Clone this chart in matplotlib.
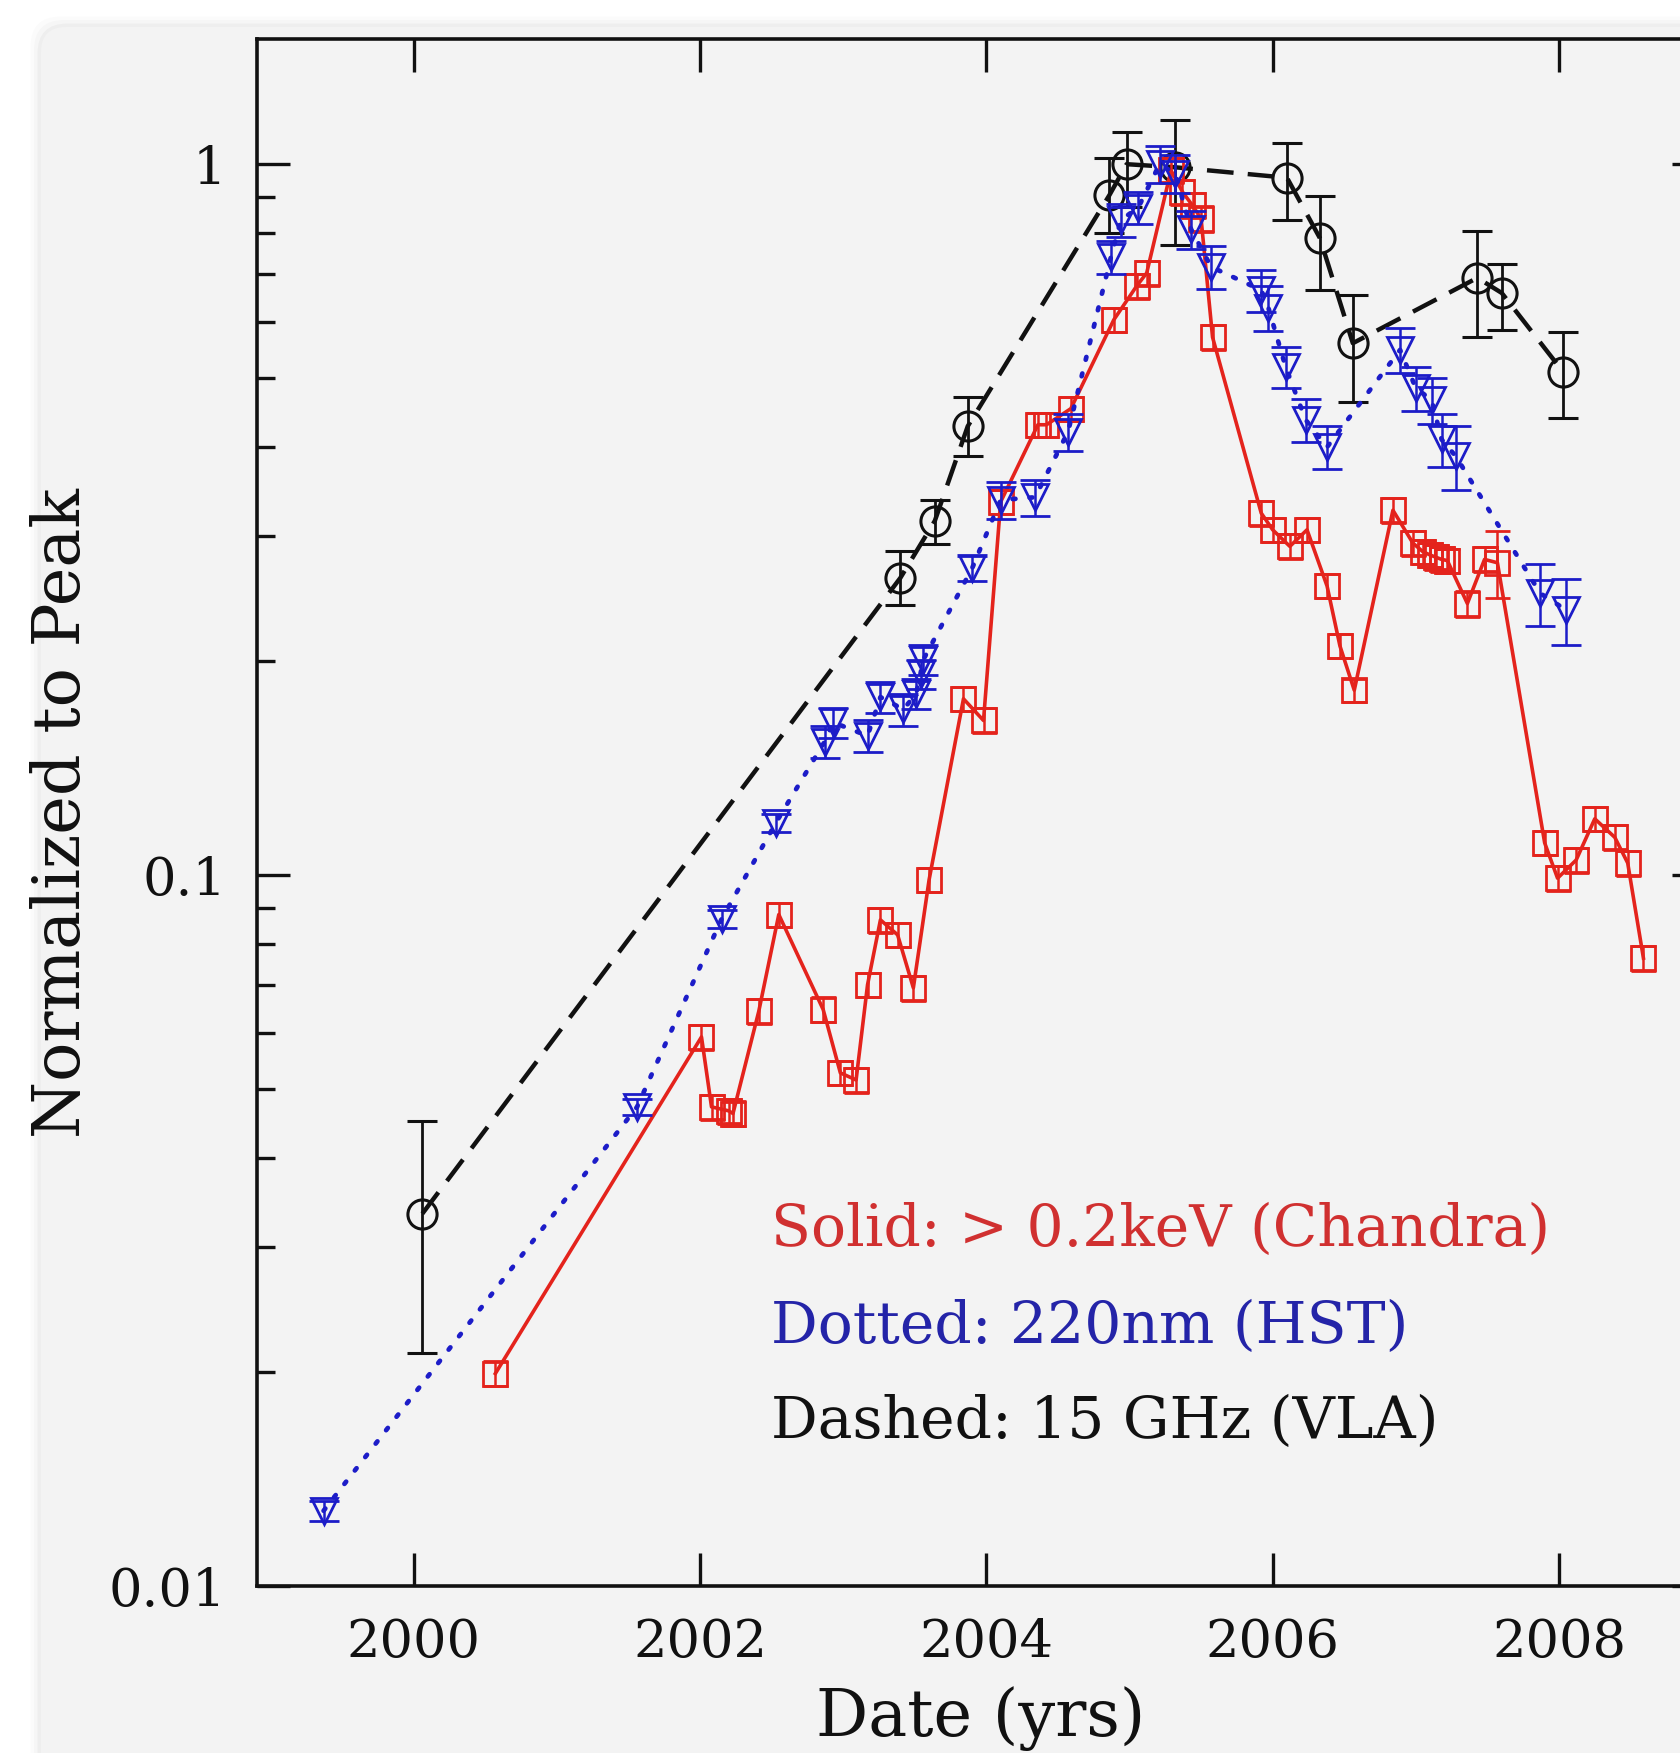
import numpy as np
import matplotlib
matplotlib.use("Agg")
import matplotlib.pyplot as plt
from matplotlib.patches import FancyBboxPatch
from matplotlib.ticker import FixedLocator, FixedFormatter, LogLocator, NullLocator, NullFormatter

# 15 GHz (VLA) - dashed, open circles
vla_t = [2000.06, 2003.40, 2003.64, 2003.87, 2004.86, 2004.98, 2005.32,
         2006.10, 2006.33, 2006.56, 2007.43, 2007.60, 2008.03]
vla_v = [0.0334, 0.262, 0.315, 0.428, 0.905, 1.0, 0.99,
         0.957, 0.787, 0.56, 0.692, 0.659, 0.51]
vla_lo = [0.0213, 0.240, 0.292, 0.388, 0.80, 0.87, 0.77,
          0.835, 0.666, 0.463, 0.571, 0.585, 0.44]
vla_hi = [0.0451, 0.286, 0.337, 0.471, 1.02, 1.11, 1.154,
          1.071, 0.902, 0.655, 0.805, 0.724, 0.581]

# 220nm (HST) - dotted, open down triangles
hst_t = [1999.37, 2001.56, 2002.15, 2002.53, 2002.87, 2002.93, 2003.17,
         2003.26, 2003.42, 2003.51, 2003.54, 2003.56, 2003.90, 2004.10,
         2004.34, 2004.57, 2004.87, 2004.94, 2005.06, 2005.21, 2005.32,
         2005.43, 2005.57, 2005.92, 2005.97, 2006.09, 2006.23, 2006.38,
         2006.89, 2007.00, 2007.11, 2007.18, 2007.28, 2007.87, 2008.05]
hst_v = [0.01276, 0.0472, 0.0867, 0.1185, 0.154, 0.164, 0.157,
         0.178, 0.171, 0.180, 0.192, 0.201, 0.27, 0.337,
         0.34, 0.42, 0.74, 0.835, 0.868, 1.0, 0.97,
         0.81, 0.717, 0.665, 0.628, 0.519, 0.437, 0.40,
         0.548, 0.484, 0.466, 0.41, 0.388, 0.249, 0.236]
hst_err = [0.0004, 0.0012, 0.0025, 0.0035, 0.008, 0.008, 0.008,
           0.009, 0.009, 0.009, 0.009, 0.010, 0.011, 0.02,
           0.02, 0.025, 0.04, 0.045, 0.045, 0.06, 0.06,
           0.05, 0.05, 0.045, 0.045, 0.035, 0.03, 0.028,
           0.04, 0.035, 0.035, 0.035, 0.04, 0.025, 0.025]

# > 0.2keV (Chandra) - solid, open squares
cxo_t = [2000.57, 2002.01, 2002.08, 2002.20, 2002.23, 2002.41, 2002.55,
         2002.86, 2002.98, 2003.09, 2003.17, 2003.26, 2003.38, 2003.49,
         2003.60, 2003.84, 2003.98, 2004.10, 2004.36, 2004.42, 2004.59,
         2004.89, 2005.05, 2005.12, 2005.29, 2005.37, 2005.44, 2005.50,
         2005.58, 2005.92, 2006.00, 2006.12, 2006.24, 2006.38, 2006.47,
         2006.57, 2006.84, 2006.98, 2007.05, 2007.10, 2007.14, 2007.18,
         2007.22, 2007.36, 2007.48, 2007.57, 2007.90, 2007.99, 2008.12,
         2008.25, 2008.39, 2008.48, 2008.59]
cxo_v = [0.0199, 0.0592, 0.0472, 0.0466, 0.0462, 0.0643, 0.088,
         0.0647, 0.0527, 0.0515, 0.0701, 0.0865, 0.0824, 0.0694,
         0.0985, 0.177, 0.165, 0.335, 0.43, 0.43, 0.453,
         0.604, 0.674, 0.703, 0.98, 0.914, 0.875, 0.838,
         0.571, 0.323, 0.306, 0.29, 0.306, 0.255, 0.21,
         0.182, 0.326, 0.293, 0.285, 0.282, 0.28, 0.278,
         0.277, 0.241, 0.278, 0.275, 0.111, 0.099, 0.105,
         0.120, 0.113, 0.104, 0.0764]
cxo_err = [0.0008, 0.0024, 0.0019, 0.0019, 0.0019, 0.0026, 0.0035,
           0.0026, 0.0021, 0.0021, 0.0028, 0.0035, 0.0033, 0.0028,
           0.0039, 0.007, 0.0066, 0.013, 0.017, 0.017, 0.018,
           0.024, 0.027, 0.028, 0.039, 0.037, 0.035, 0.034,
           0.023, 0.013, 0.012, 0.012, 0.012, 0.010, 0.008,
           0.007, 0.013, 0.012, 0.011, 0.011, 0.011, 0.011,
           0.011, 0.010, 0.011, 0.03, 0.0044, 0.004, 0.0042,
           0.0048, 0.0045, 0.0042, 0.003]

year_ticks = [2000, 2002, 2004, 2006, 2008]
y_ticks = [0.01, 0.1, 1]
y_ticklabels = ["0.01", "0.1", "1"]

RED = "#e4231c"
BLUE = "#1c1cc8"
BLACK = "#111111"
CARD = "#f3f3f3"

plt.rcParams["font.family"] = ["DejaVu Serif"]

W, H = 1680, 1753
fig = plt.figure(figsize=(W / 100, H / 100), dpi=100, facecolor="white")

# card with a soft shadow, kept behind the axes
for k, a in enumerate([0.015, 0.02, 0.03]):
    off = (3 - k) * 0.035
    sh = FancyBboxPatch((0.41 - off, -2), 30, 1726 / 100 + 2 + off,
                        boxstyle="round,pad=0,rounding_size=0.3",
                        transform=fig.dpi_scale_trans, facecolor="black",
                        edgecolor="none", alpha=a, zorder=-3)
    fig.patches.append(sh)
card = FancyBboxPatch((0.41, -2), 30, 1726 / 100 + 2,
                      boxstyle="round,pad=0,rounding_size=0.25",
                      transform=fig.dpi_scale_trans, facecolor=CARD,
                      edgecolor="none", zorder=-2)
fig.patches.append(card)

left, right, top, bottom = 257, 1705, 39, 1586
ax = fig.add_axes([left / W, 1 - bottom / H, (right - left) / W, (bottom - top) / H])
ax.set_facecolor("none")

# VLA
ax.errorbar(vla_t, vla_v,
            yerr=[np.array(vla_v) - np.array(vla_lo), np.array(vla_hi) - np.array(vla_v)],
            color=BLACK, linestyle=(0, (6, 3.2)), linewidth=3.2,
            marker="o", markersize=21, markerfacecolor="none", markeredgewidth=2.2,
            ecolor=BLACK, elinewidth=2.0, capsize=11, capthick=2.0, zorder=3)

# Chandra
ax.errorbar(cxo_t, cxo_v, yerr=cxo_err,
            color=RED, linestyle="-", linewidth=2.6,
            marker="s", markersize=17, markerfacecolor="none", markeredgewidth=2.0,
            ecolor=RED, elinewidth=1.8, capsize=9, capthick=1.8, zorder=4)

# HST
ax.errorbar(hst_t, hst_v, yerr=hst_err,
            color=BLUE, linestyle=(0, (0.6, 3.0)), linewidth=3.4,
            dash_capstyle="round",
            marker="v", markersize=19, markerfacecolor="none", markeredgewidth=2.0,
            ecolor=BLUE, elinewidth=1.8, capsize=11, capthick=1.8, zorder=5)

ax.set_yscale("log")
ax.set_xlim(1998.905, 2009.02)
ax.set_ylim(0.01, 1.5)

ax.xaxis.set_major_locator(FixedLocator(year_ticks))
ax.xaxis.set_minor_locator(NullLocator())
ax.yaxis.set_major_locator(FixedLocator(y_ticks))
ax.yaxis.set_major_formatter(FixedFormatter(y_ticklabels))
ax.yaxis.set_minor_locator(LogLocator(base=10, subs=np.arange(2, 10)))
ax.yaxis.set_minor_formatter(NullFormatter())

ax.tick_params(which="both", direction="in", top=True, right=True,
               width=2.4, colors=BLACK, labelsize=38, pad=22)
ax.tick_params(which="major", length=24)
ax.tick_params(which="minor", length=13)
for s in ax.spines.values():
    s.set_linewidth(2.6)
    s.set_color(BLACK)

fig.text(62 / W, 1 - 813 / H, "Normalized to Peak", rotation=90,
         ha="center", va="center", fontsize=47, color=BLACK)
# x label sits at the very bottom edge, as in the reference
fig.text(981 / W, 2 / H, "Date (yrs)", ha="center", va="bottom",
         fontsize=47, color=BLACK)

tx = (771 - left) / (right - left)
ax.text(tx, (bottom - 1230) / (bottom - top), "Solid: > 0.2keV (Chandra)",
        transform=ax.transAxes, ha="left", va="center", fontsize=42, color="#d03030")
ax.text(tx, (bottom - 1327) / (bottom - top), "Dotted: 220nm (HST)",
        transform=ax.transAxes, ha="left", va="center", fontsize=42, color="#2424a8")
ax.text(tx, (bottom - 1422) / (bottom - top), "Dashed: 15 GHz (VLA)",
        transform=ax.transAxes, ha="left", va="center", fontsize=42, color=BLACK)

fig.savefig("out.png", dpi=100, facecolor=fig.get_facecolor())
